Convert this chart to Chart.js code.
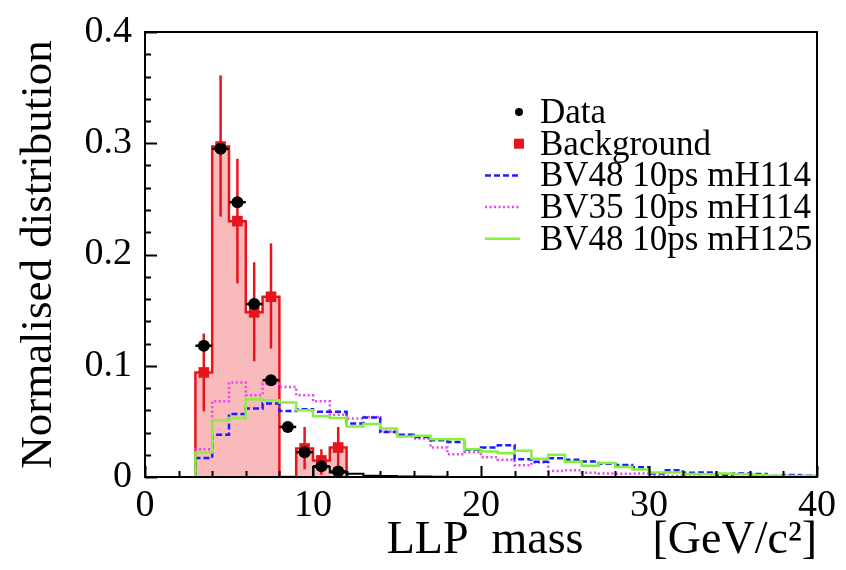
<!DOCTYPE html>
<html>
<head>
<meta charset="utf-8">
<script src="https://cdn.jsdelivr.net/npm/chart.js@4.4.1/dist/chart.umd.min.js"></script>
<style>
  html, body { margin: 0; padding: 0; background: #fff; }
</style>
</head>
<body>
<canvas id="llpMass" width="846" height="570"></canvas>
<script>
// bin edges of the signal histograms (GeV/c2), 1 GeV bins
const binEdges = [3, 4, 5, 6, 7, 8, 9, 10, 11, 12, 13, 14, 15, 16, 17, 18, 19, 20, 21,
  22, 23, 24, 25, 26, 27, 28, 29, 30, 31, 32, 33, 34, 35, 36, 37, 38, 39, 40];

const bv48mH114 = [0.017, 0.038, 0.0566, 0.0615, 0.066, 0.0593, 0.061, 0.0586, 0.0586, 0.048,
  0.0535, 0.0405, 0.038, 0.036, 0.033, 0.0315, 0.0245, 0.0265, 0.0286, 0.016,
  0.0137, 0.0169, 0.0155, 0.014, 0.012, 0.0108, 0.0088, 0.0032, 0.0061, 0.0038,
  0.004, 0.0015, 0.0032, 0.0026, 0.0009, 0.0017, 0.0012];

const bv35mH114 = [0.025, 0.068, 0.085, 0.0735, 0.084, 0.081, 0.0735, 0.068, 0.056, 0.0525,
  0.054, 0.041, 0.037, 0.0345, 0.0265, 0.0205, 0.0222, 0.0178, 0.0155, 0.0105,
  0.0131, 0.0055, 0.006, 0.0038, 0.0032, 0.003, 0.0032, 0.001, 0.001, 0.0005,
  0, 0, 0, 0, 0, 0, 0];

const bv48mH125 = [0.022, 0.051, 0.053, 0.070, 0.069, 0.067, 0.060, 0.0545, 0.053, 0.0455,
  0.0476, 0.0437, 0.0365, 0.037, 0.034, 0.034, 0.025, 0.023, 0.0213, 0.0236,
  0.0164, 0.0199, 0.0137, 0.0102, 0.0125, 0.009, 0.0067, 0.0041, 0.0041, 0.0026,
  0.0024, 0.0032, 0.0025, 0.0018, 0.0012, 0.0009, 0.0009];

// background and data live on the low mass bins
const lowEdges = [3, 4, 5, 6, 7, 8, 9, 10, 11, 12];
const lowCentres = [3.5, 4.5, 5.5, 6.5, 7.5, 8.5, 9.5, 10.5, 11.5];
const background = [0.094, 0.297, 0.230, 0.148, 0.162, 0, 0.0257, 0.0149, 0.0265];
const bkgErrLow  = [0.059, 0.234, 0.174, 0.104, 0.1155, null, 0.007, 0.002, 0.009];
const bkgErrHigh = [0.129, 0.361, 0.286, 0.193, 0.210, null, 0.045, 0.025, 0.045];
const dataValues = [0.118, 0.295, 0.247, 0.1555, 0.087, 0.045, 0.0223, 0.0096, 0.005];

// thin black data histogram above 10 GeV
const tailEdges = [10, 11, 12, 13, 14, 15, 16, 17, 18];
const dataTail = [0.009, 0.004, 0.003, 0.0012, 0.001, 0.0005, 0.0005, 0.0003];

const FONT = "'Liberation Serif', 'Times New Roman', serif";
const RED = '#e8141c';

function histPoints(edges, values) {
  const pts = [{ x: edges[0], y: 0 }];
  values.forEach((v, i) => pts.push({ x: edges[i], y: v }));
  pts.push({ x: edges[values.length], y: values[values.length - 1] });
  pts.push({ x: edges[values.length], y: 0 });
  return pts;
}

function markerPoints(xs, ys) {
  return xs.map((x, i) => ({ x, y: ys[i] === 0 ? null : ys[i] }));
}

// error bars, drawn just before the markers of their dataset
const errorBars = {
  id: 'errorBars',
  beforeDatasetDraw(chart, args) {
    const ds = chart.data.datasets[args.index];
    if (!ds.errLow && !ds.xHalf) return;
    const { ctx, scales: { x, y } } = chart;
    ctx.save();
    ctx.strokeStyle = ds.errColor;
    ctx.lineWidth = 2.5;
    ds.data.forEach((p, i) => {
      if (p.y === null) return;
      const px = x.getPixelForValue(p.x);
      const py = y.getPixelForValue(p.y);
      ctx.beginPath();
      if (ds.errLow && ds.errLow[i] !== null) {
        ctx.moveTo(px, y.getPixelForValue(ds.errLow[i]));
        ctx.lineTo(px, y.getPixelForValue(ds.errHigh[i]));
      }
      if (ds.xHalf) {
        ctx.moveTo(x.getPixelForValue(p.x - ds.xHalf), py);
        ctx.lineTo(x.getPixelForValue(p.x + ds.xHalf), py);
      }
      ctx.stroke();
    });
    ctx.restore();
  }
};

// ROOT style frame with ticks pointing inwards
const rootFrame = {
  id: 'rootFrame',
  afterDatasetsDraw(chart) {
    const { ctx, chartArea: a, scales: { x, y } } = chart;
    ctx.save();
    ctx.strokeStyle = '#000';
    ctx.lineWidth = 2;
    ctx.strokeRect(a.left, a.top, a.right - a.left, a.bottom - a.top);
    ctx.beginPath();
    for (let k = 0; k <= 20; k++) {
      const py = Math.round(y.getPixelForValue(k * 0.02)) + 0.5;
      const len = k % 5 === 0 ? 12 : 6;
      ctx.moveTo(a.left, py);
      ctx.lineTo(a.left + len, py);
    }
    for (let k = 0; k <= 20; k++) {
      const px = Math.round(x.getPixelForValue(k * 2)) + 0.5;
      const len = k % 5 === 0 ? 11 : 6;
      ctx.moveTo(px, a.bottom);
      ctx.lineTo(px, a.bottom - len);
    }
    ctx.stroke();
    ctx.restore();
  }
};

// legend in the upper right corner of the frame
const rootLegend = {
  id: 'rootLegend',
  afterDraw(chart) {
    const ctx = chart.ctx;
    const items = chart.data.datasets.filter(d => d.inLegend);
    ctx.save();
    ctx.font = '35px ' + FONT;
    ctx.fillStyle = '#000';
    ctx.textBaseline = 'alphabetic';
    items.forEach((d, i) => {
      const base = 123 + i * 31.7;
      const cy = base - 11;
      if (d.showLine) {
        ctx.strokeStyle = d.borderColor;
        ctx.lineWidth = d.borderWidth;
        ctx.setLineDash(d.borderDash || []);
        ctx.beginPath();
        ctx.moveTo(485, cy);
        ctx.lineTo(520, cy);
        ctx.stroke();
        ctx.setLineDash([]);
      } else if (d.pointStyle === 'rect') {
        ctx.fillStyle = d.pointBackgroundColor;
        ctx.fillRect(514, cy - 5, 10, 10);
      } else {
        ctx.fillStyle = d.pointBackgroundColor;
        ctx.beginPath();
        ctx.arc(519, cy, 4, 0, Math.PI * 2);
        ctx.fill();
      }
      ctx.fillStyle = '#000';
      ctx.fillText(d.label, 540, base);
    });
    ctx.restore();
  }
};

Chart.defaults.font.family = FONT;
Chart.defaults.color = '#000';

new Chart(document.getElementById('llpMass'), {
  type: 'scatter',
  data: {
    datasets: [
      {
        label: 'Data',
        inLegend: true,
        data: markerPoints(lowCentres, dataValues),
        pointStyle: 'circle',
        pointRadius: 6,
        pointBackgroundColor: '#000',
        pointBorderWidth: 0,
        xHalf: 0.5,
        errColor: '#000',
        order: 1,
      },
      {
        label: 'Background',
        inLegend: true,
        data: markerPoints(lowCentres, background),
        pointStyle: 'rect',
        pointRadius: 7.5,
        pointBackgroundColor: RED,
        pointBorderWidth: 0,
        errLow: bkgErrLow,
        errHigh: bkgErrHigh,
        errColor: RED,
        order: 2,
      },
      {
        label: 'BV48 10ps mH114',
        inLegend: true,
        data: histPoints(binEdges, bv48mH114),
        showLine: true,
        stepped: 'before',
        borderColor: '#1c1cff',
        borderWidth: 2.5,
        borderDash: [6, 3],
        pointRadius: 0,
        fill: false,
        order: 5,
      },
      {
        label: 'BV35 10ps mH114',
        inLegend: true,
        data: histPoints(binEdges, bv35mH114),
        showLine: true,
        stepped: 'before',
        borderColor: '#f040f0',
        borderWidth: 2.5,
        borderDash: [2, 2.5],
        pointRadius: 0,
        fill: false,
        order: 6,
      },
      {
        label: 'BV48 10ps mH125',
        inLegend: true,
        data: histPoints(binEdges, bv48mH125),
        showLine: true,
        stepped: 'before',
        borderColor: '#86f03c',
        borderWidth: 2.5,
        pointRadius: 0,
        fill: false,
        order: 4,
      },
      {
        label: 'Background histogram',
        data: histPoints(lowEdges, background),
        showLine: true,
        stepped: 'before',
        borderColor: RED,
        borderWidth: 2.5,
        backgroundColor: 'rgba(232, 40, 40, 0.32)',
        fill: 'origin',
        pointRadius: 0,
        order: 10,
      },
      {
        label: 'Data tail',
        data: histPoints(tailEdges, dataTail),
        showLine: true,
        stepped: 'before',
        borderColor: '#000',
        borderWidth: 2,
        pointRadius: 0,
        fill: false,
        order: 3,
      },
    ]
  },
  options: {
    responsive: false,
    animation: false,
    layout: { padding: { top: 20, right: 20, left: 0, bottom: 0 } },
    plugins: {
      legend: { display: false },
      tooltip: { enabled: false },
    },
    scales: {
      x: {
        type: 'linear',
        min: 0,
        max: 40,
        grid: { display: false, drawTicks: false },
        border: { display: false },
        ticks: {
          stepSize: 10,
          padding: 10,
          maxRotation: 0,
          autoSkip: false,
          font: { size: 38, lineHeight: 1 },
        },
        title: {
          display: true,
          text: 'LLP  mass      [GeV/c²]',
          align: 'end',
          font: { size: 46 },
          padding: { top: 0, bottom: 1 },
        },
        afterFit: s => { s.height = 93; },
      },
      y: {
        min: 0,
        max: 0.4,
        grid: { display: false, drawTicks: false },
        border: { display: false },
        ticks: {
          stepSize: 0.1,
          padding: 13,
          font: { size: 38, lineHeight: 1 },
          callback: v => (v === 0 ? '0' : v.toFixed(1)),
        },
        title: {
          display: true,
          text: 'Normalised distribution',
          align: 'center',
          font: { size: 45 },
          padding: { top: 12, bottom: 0 },
        },
        afterFit: s => { s.width = 145; },
      },
    },
  },
  plugins: [errorBars, rootFrame, rootLegend],
});
</script>
</body>
</html>
